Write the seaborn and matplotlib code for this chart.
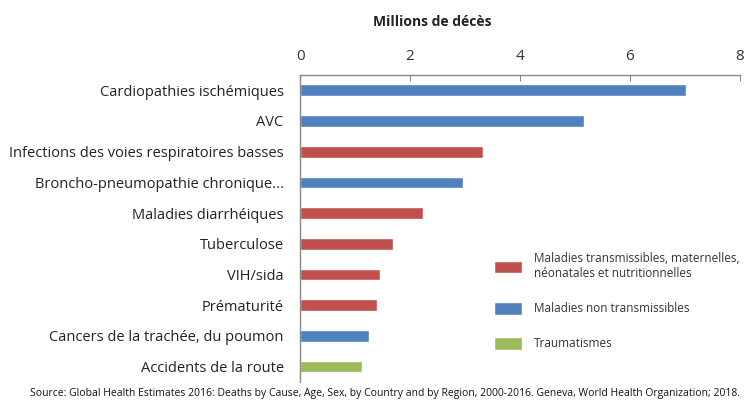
import matplotlib
matplotlib.use('Agg')
import matplotlib.pyplot as plt
import seaborn as sns
import pandas as pd

# ── data ──────────────────────────────────────────────────────────────
causes = [
    'Cardiopathies ischémiques',
    'AVC',
    'Infections des voies respiratoires basses',
    'Broncho-pneumopathie chronique...',
    'Maladies diarrhéiques',
    'Tuberculose',
    'VIH/sida',
    'Prématurité',
    'Cancers de la trachée, du poumon',
    'Accidents de la route',
]
deaths = [7.02, 5.16, 3.33, 2.96, 2.24, 1.68, 1.46, 1.39, 1.26, 1.12]
groups_short = ['NT', 'NT', 'T', 'NT', 'T', 'T', 'T', 'T', 'NT', 'TR']
group_names = {
    'T': 'Maladies transmissibles, maternelles,\nnéonatales et nutritionnelles',
    'NT': 'Maladies non transmissibles',
    'TR': 'Traumatismes',
}
group_colors = {
    group_names['T']: '#C0504D',
    group_names['NT']: '#4F81BD',
    group_names['TR']: '#9BBB59',
}
x_ticks = [0, 2, 4, 6, 8]

df = pd.DataFrame({
    'cause': causes,
    'deaths': deaths,
    'group': [group_names[g] for g in groups_short],
})
hue_order = [group_names['T'], group_names['NT'], group_names['TR']]

# ── style ─────────────────────────────────────────────────────────────
sns.set_style('white')
plt.rcParams['font.family'] = ['Open Sans', 'DejaVu Sans']

fig = plt.figure(figsize=(7.47, 4.05), dpi=100)
ax = fig.add_axes([0.402, 0.057, 0.588, 0.758])

sns.barplot(data=df, x='deaths', y='cause', hue='group', hue_order=hue_order,
            palette=group_colors, dodge=False, width=0.38, orient='h',
            saturation=1, ax=ax)

ax.set_xlim(0, 8)
ax.set_ylim(9.5, -0.5)
ax.set_xticks(x_ticks)
ax.xaxis.tick_top()
ax.tick_params(axis='x', direction='in', length=4, color='#888888',
               labelsize=11, labelcolor='#333333', pad=8)
ax.tick_params(axis='y', length=0, labelsize=10.5, labelcolor='#222222', pad=12)
# small ticks at category boundaries on the left spine
ax.set_yticks([i + 0.5 for i in range(-1, len(causes))], minor=True)
ax.tick_params(axis='y', which='minor', direction='out', length=4, color='#888888')
ax.set_xlabel('')
ax.set_ylabel('')

for side in ['right', 'bottom']:
    ax.spines[side].set_visible(False)
for side in ['top', 'left']:
    ax.spines[side].set_color('#888888')
    ax.spines[side].set_linewidth(1)

fig.text(0.578, 0.945, 'Millions de décès', ha='center', va='center',
         fontsize=10, fontweight='bold', color='#222222')

leg = ax.legend(loc='upper left', bbox_to_anchor=(0.661, 0.378),
                bbox_transform=fig.transFigure, frameon=False,
                borderaxespad=0, borderpad=0,
                fontsize=8.5, handlelength=2.4, handleheight=1.3,
                labelspacing=1.85, handletextpad=1.0)
for t in leg.get_texts():
    t.set_color('#333333')

fig.text(0.515, 0.028,
         'Source: Global Health Estimates 2016: Deaths by Cause, Age, Sex, by Country and by Region, '
         '2000-2016. Geneva, World Health Organization; 2018.',
         ha='center', va='center', fontsize=7.5, color='#111111')

fig.savefig('out.png', dpi=100)
